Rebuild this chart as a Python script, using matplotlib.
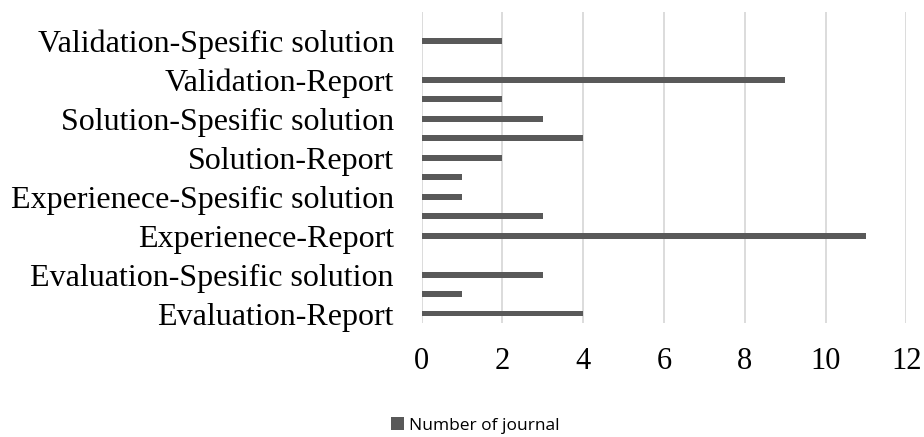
import matplotlib
matplotlib.use("Agg")
import matplotlib.pyplot as plt
from matplotlib.patches import Patch

# categories from bottom to top (unlabeled ones shown without a tick label)
labels = ["Evaluation-Report", "", "Evaluation-Spesific solution", "",
          "Experienece-Report", "", "Experienece-Spesific solution", "",
          "Solution-Report", "", "Solution-Spesific solution", "",
          "Validation-Report", "", "Validation-Spesific solution", ""]
values = [4, 1, 3, 0, 11, 3, 1, 1, 2, 4, 3, 2, 9, 0, 2, 0]
xticks = [0, 2, 4, 6, 8, 10, 12]
series_name = "Number of journal"

bar_color = "#595959"
grid_color = "#d9d9d9"

fig = plt.figure(figsize=(9.24, 4.37), dpi=100)
ax = fig.add_axes([0.4564, 0.2602, 0.5245, 0.713])

ypos = list(range(len(values)))
ax.barh(ypos, values, height=0.3, color=bar_color, zorder=3)

ax.set_xlim(0, 12)
ax.set_ylim(-0.5, len(values) - 0.5)
ax.set_xticks(xticks)
ax.set_xticklabels([str(t) for t in xticks], fontfamily="Liberation Serif", fontsize=22)

shown = [i for i, l in enumerate(labels) if l]
ax.set_yticks(shown)
ax.set_yticklabels([labels[i] for i in shown], fontfamily="Liberation Serif", fontsize=23)

ax.tick_params(axis="both", length=0)
ax.tick_params(axis="x", pad=17)
ax.tick_params(axis="y", pad=20)
ax.grid(axis="x", color=grid_color, linewidth=1.3, zorder=0)
for s in ax.spines.values():
    s.set_visible(False)

handle = Patch(facecolor=bar_color, edgecolor="none")
fig.legend([handle], [series_name], loc="center", bbox_to_anchor=(475 / 924, 1 - 425.7 / 437),
           frameon=False, prop={"family": "Open Sans", "size": 12.5},
           handlelength=0.75, handleheight=0.75, handletextpad=0.3)

fig.savefig("out.png", dpi=100)
